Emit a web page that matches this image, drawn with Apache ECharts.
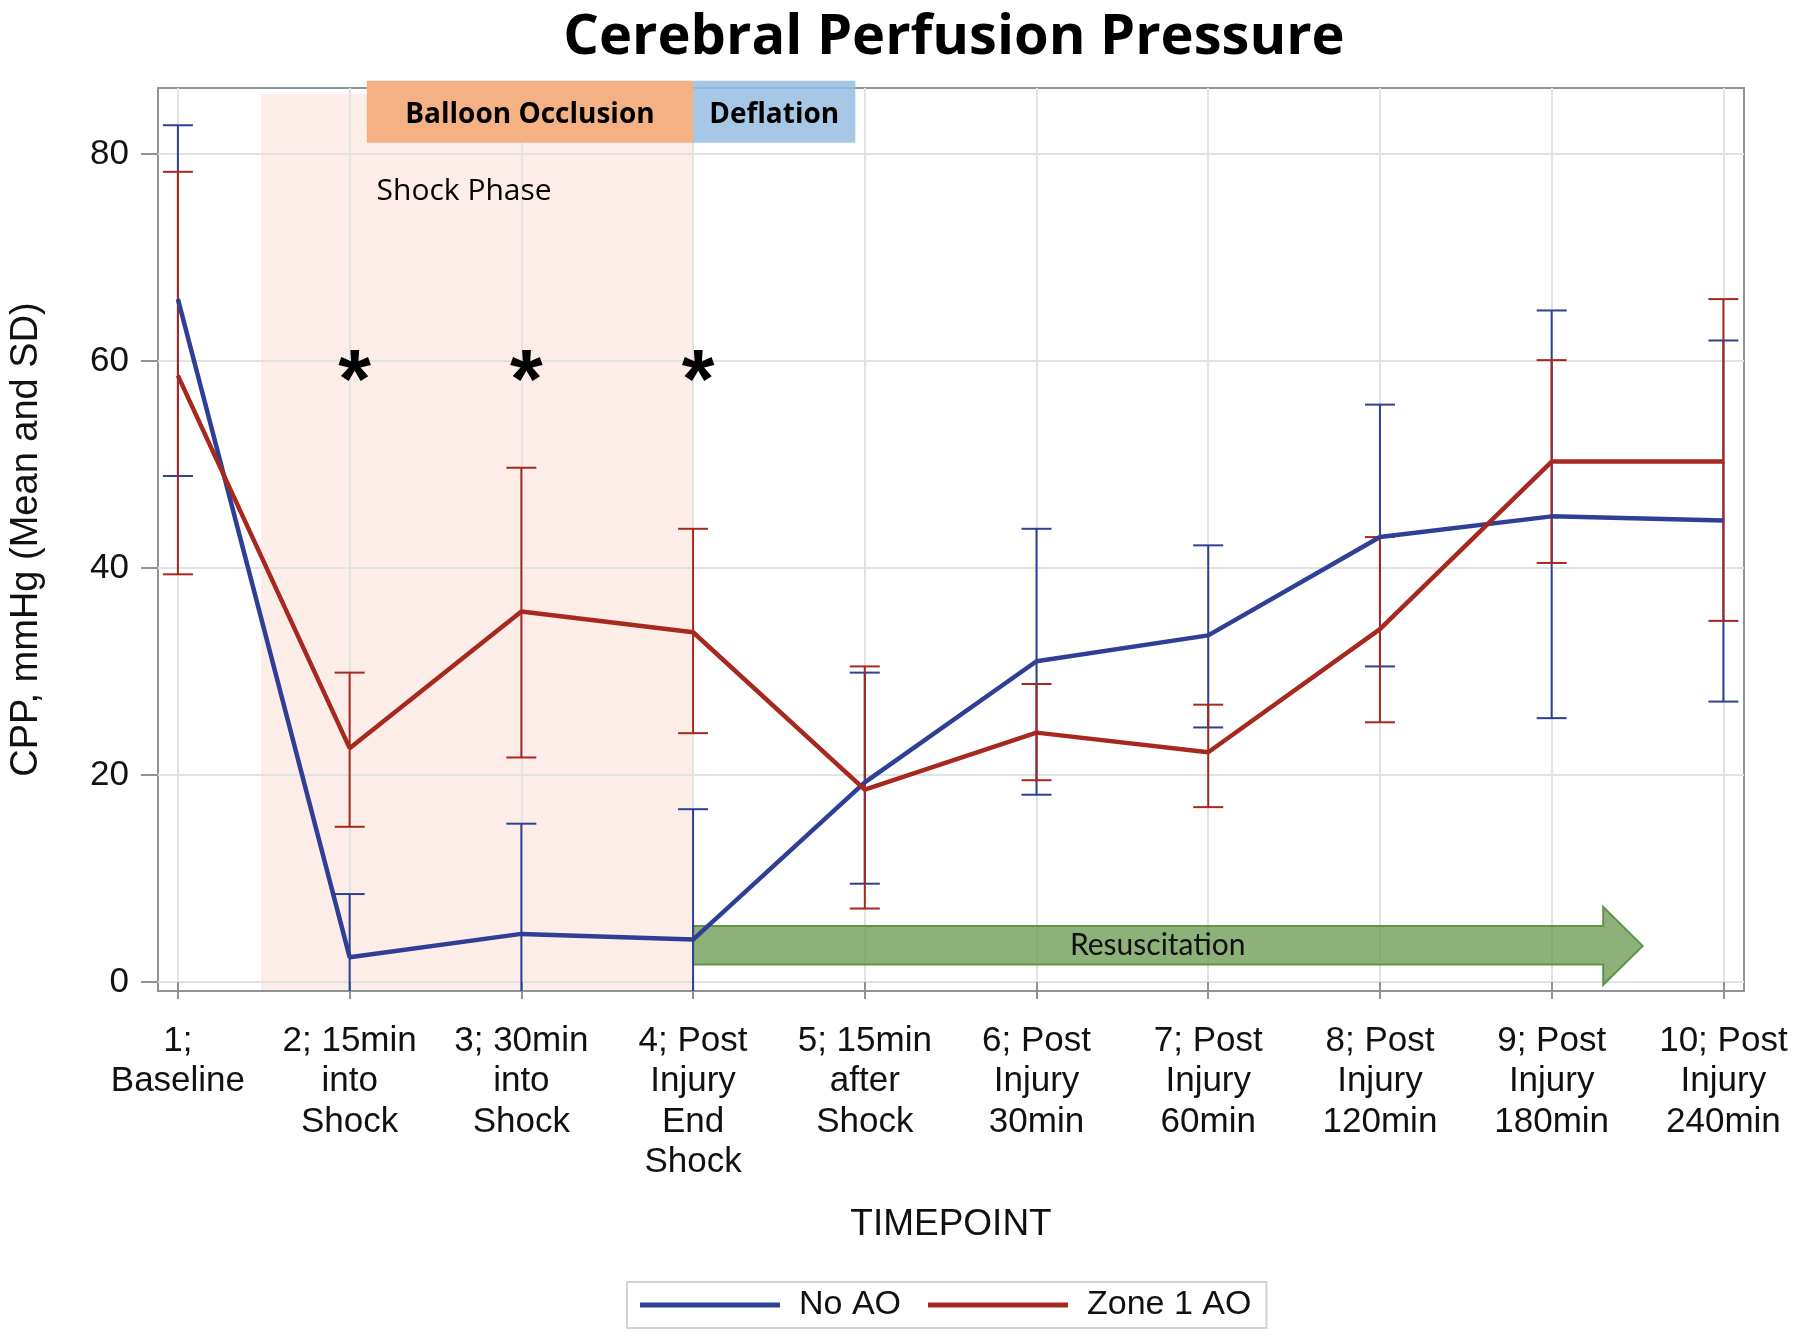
<!DOCTYPE html>
<html>
<head>
<meta charset="utf-8">
<script src="https://cdn.jsdelivr.net/npm/echarts@6/dist/echarts.min.js"></script>
<style>html,body{margin:0;padding:0;background:#fff}#c{width:1800px;height:1338px}</style>
</head>
<body>
<div id="c"></div>
<script>
// ---- data ----
const categories = ["1;\nBaseline", "2; 15min\ninto\nShock", "3; 30min\ninto\nShock", "4; Post\nInjury\nEnd\nShock",
  "5; 15min\nafter\nShock", "6; Post\nInjury\n30min", "7; Post\nInjury\n60min", "8; Post\nInjury\n120min",
  "9; Post\nInjury\n180min", "10; Post\nInjury\n240min"];
const xPos = [1, 2, 3, 4, 5, 6, 7, 8, 9, 10];
const yTicks = [0, 20, 40, 60, 80];

const noAOMean  = [66.0, 2.4, 4.65, 4.1, 19.3, 31.0, 33.5, 43.0, 45.0, 44.6];
const noAOUpper = [82.8, 8.5, 15.3, 16.7, 29.9, 43.8, 42.2, 55.8, 64.9, 62.0];
const noAOLower = [48.9, -3.7, -6.0, -8.5, 9.5, 18.1, 24.6, 30.5, 25.5, 27.1];

const z1Mean  = [58.6, 22.6, 35.8, 33.8, 18.6, 24.1, 22.2, 34.1, 50.3, 50.3];
const z1Upper = [78.3, 29.9, 49.7, 43.8, 30.5, 28.8, 26.8, 43.0, 60.1, 66.0];
const z1Lower = [39.4, 15.0, 21.7, 24.05, 7.1, 19.5, 16.9, 25.1, 40.5, 34.9];

// annotations (data units)
const shockPhaseArea = [1.484, 4.0, 85.8];            // x0, x1, yTop
const balloonBox = [2.10, 4.0, 81.1, 87.1];           // x0, x1, y0, y1
const deflationBox = [4.0, 4.945, 81.1, 87.1];
const resusArrow = [4.0, 9.30, 9.53, 1.7, 5.4, -0.27, 7.25]; // x0, xHeadBase, xTip, bodyLow, bodyHigh, headLow, headHigh
const asteriskX = [2, 3, 4];
const asteriskY = 59.7;
const shockPhaseLabel = [2.157, 76.45];
const resusLabel = [6.706, 3.58];

const Y_MIN = -0.87, Y_MAX = 86.4, X_MIN = 0.884, X_MAX = 10.12;
const BLUE = '#2e3f96', RED = '#a7281e';

function errRender(color) {
  return function (params, api) {
    const x = api.value(0), lo = api.value(1), hi = api.value(2);
    const a = api.coord([x, lo]), b = api.coord([x, hi]);
    const hw = 15, st = {stroke: color, lineWidth: 2};
    return {type: 'group', children: [
      {type: 'line', shape: {x1: a[0], y1: a[1], x2: b[0], y2: b[1]}, style: st},
      {type: 'line', shape: {x1: b[0] - hw, y1: b[1], x2: b[0] + hw, y2: b[1]}, style: st},
      {type: 'line', shape: {x1: a[0] - hw, y1: a[1], x2: a[0] + hw, y2: a[1]}, style: st}
    ]};
  };
}

const chart = echarts.init(document.getElementById('c'), null, {renderer: 'canvas'});
const txtFont = 'Liberation Sans';
const option = {
  backgroundColor: '#fff',
  animation: false,
  title: {
    text: 'Cerebral Perfusion Pressure', left: 949, textAlign: 'center', top: 5,
    textStyle: {fontFamily: 'Open Sans', fontWeight: 'bold', fontSize: 56, color: '#000'}
  },
  legend: {
    data: [{name: 'No AO', icon: 'rect'}, {name: 'Zone 1 AO', icon: 'rect'}],
    left: 627, top: 1282, itemWidth: 140, itemHeight: 5, itemGap: 27,
    padding: [6, 15, 6, 13], borderColor: '#d3d3d3', borderWidth: 2,
    textStyle: {fontFamily: txtFont, fontSize: 34, color: '#111', lineHeight: 34, padding: [0, 0, 0, 14]}
  },
  grid: {left: 155, right: 56, top: 88, bottom: 347, show: true, borderColor: '#8c9399', borderWidth: 2, backgroundColor: 'transparent'},
  xAxis: {
    type: 'value', min: X_MIN, max: X_MAX,
    name: 'TIMEPOINT', nameLocation: 'middle', nameGap: 215,
    nameTextStyle: {fontFamily: txtFont, fontSize: 37, color: '#111'},
    axisLine: {show: false},
    axisTick: {show: true, customValues: xPos, length: 17, lineStyle: {color: '#8c9399', width: 2}},
    axisLabel: {customValues: xPos, margin: 30, fontFamily: txtFont, fontSize: 35, lineHeight: 40.5, color: '#111',
      formatter: function (v) { return categories[Math.round(v) - 1] || ''; }},
    splitLine: {show: true, lineStyle: {color: '#e2e2e2', width: 2}}
  },
  yAxis: {
    type: 'value', min: Y_MIN, max: Y_MAX,
    name: 'CPP, mmHg (Mean and SD)', nameLocation: 'middle', nameGap: 112,
    nameTextStyle: {fontFamily: txtFont, fontSize: 38, color: '#111'},
    axisLine: {show: false},
    axisTick: {show: true, customValues: yTicks, length: 17, lineStyle: {color: '#8c9399', width: 2}},
    axisLabel: {customValues: yTicks, margin: 29, fontFamily: txtFont, fontSize: 35, color: '#111'},
    splitLine: {show: true, lineStyle: {color: '#e2e2e2', width: 2}}
  },
  series: [
    { // shock phase shading
      type: 'custom', z: -1, silent: true, data: [[0]], clip: true,
      renderItem: function (p, api) {
        const a = api.coord([shockPhaseArea[0], Y_MIN]), b = api.coord([shockPhaseArea[1], shockPhaseArea[2]]);
        return {type: 'rect', shape: {x: a[0], y: b[1], width: b[0] - a[0], height: a[1] - b[1]}, style: {fill: 'rgba(250,215,205,0.45)'}};
      }
    },
    { // resuscitation arrow
      type: 'custom', z: 3, silent: true, data: [[0]], clip: false,
      renderItem: function (p, api) {
        const r = resusArrow;
        const pts = [[r[0], r[4]], [r[1], r[4]], [r[1], r[6]], [r[2], (r[5] + r[6]) / 2], [r[1], r[5]], [r[1], r[3]], [r[0], r[3]]].map(function (q) { return api.coord(q); });
        const t = api.coord(resusLabel);
        return {type: 'group', children: [
          {type: 'polygon', shape: {points: pts}, style: {fill: 'rgba(112,158,88,0.8)', stroke: '#5f9446', lineWidth: 2}},
          {type: 'text', x: t[0], y: t[1], style: {text: 'Resuscitation', fontFamily: 'Lato', fontSize: 30, fill: '#111', align: 'center', verticalAlign: 'middle'}}
        ]};
      }
    },
    {
      name: 'No AO err', type: 'custom', z: 4, clip: true, silent: true,
      data: xPos.map(function (x, i) { return [x, noAOLower[i], noAOUpper[i]]; }),
      renderItem: errRender(BLUE)
    },
    {
      name: 'Zone 1 AO err', type: 'custom', z: 4, clip: true, silent: true,
      data: xPos.map(function (x, i) { return [x, z1Lower[i], z1Upper[i]]; }),
      renderItem: errRender(RED)
    },
    {
      name: 'No AO', type: 'line', z: 5, showSymbol: false, color: BLUE,
      lineStyle: {color: BLUE, width: 4.5},
      data: xPos.map(function (x, i) { return [x, noAOMean[i]]; })
    },
    {
      name: 'Zone 1 AO', type: 'line', z: 5, showSymbol: false, color: RED,
      lineStyle: {color: RED, width: 4.5},
      data: xPos.map(function (x, i) { return [x, z1Mean[i]]; })
    },
    { // phase boxes and labels
      type: 'custom', z: 6, silent: true, data: [[0]], clip: false,
      renderItem: function (p, api) {
        function box(bx, fill, label) {
          const a = api.coord([bx[0], bx[2]]), b = api.coord([bx[1], bx[3]]);
          return [
            {type: 'rect', shape: {x: a[0], y: b[1], width: b[0] - a[0], height: a[1] - b[1]}, style: {fill: fill}},
            {type: 'text', x: (a[0] + b[0]) / 2, y: (a[1] + b[1]) / 2 + 3, style: {text: label, fontFamily: 'Open Sans', fontWeight: 'bold', fontSize: 28, fill: '#000', align: 'center', verticalAlign: 'middle'}}
          ];
        }
        const sp = api.coord(shockPhaseLabel);
        const kids = [].concat(
          box(balloonBox, '#f4b183', 'Balloon Occlusion'),
          box(deflationBox, 'rgba(150,189,225,0.85)', 'Deflation'),
          [{type: 'text', x: sp[0], y: sp[1], style: {text: 'Shock Phase', fontFamily: 'Open Sans', fontSize: 30, fill: '#000', align: 'left', verticalAlign: 'middle'}}]
        );
        asteriskX.forEach(function (x) {
          const c = api.coord([x, asteriskY]);
          kids.push({type: 'text', x: c[0] + 5, y: c[1] + 21, style: {text: '*', fontFamily: 'Liberation Sans', fontWeight: 'bold', fontSize: 84, fill: '#000', align: 'center', verticalAlign: 'middle'}});
        });
        return {type: 'group', children: kids};
      }
    }
  ]
};
chart.setOption(option);
</script>
</body>
</html>
